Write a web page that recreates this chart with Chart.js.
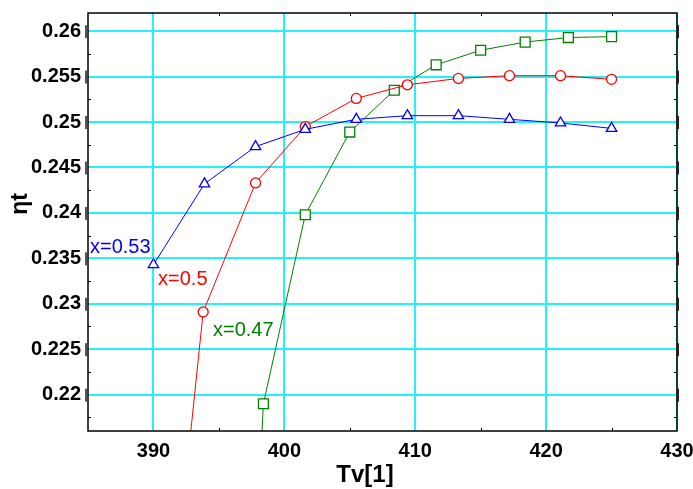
<!DOCTYPE html>
<html>
<head>
<meta charset="utf-8">
<script src="https://cdn.jsdelivr.net/npm/chart.js@4"></script>
<style>
body { margin: 0; background: #fff; }
#wrap { width: 693px; height: 489px; }
</style>
</head>
<body>
<div id="wrap"><canvas id="tvcanvas"></canvas></div>
<script>
// x = 0.53 (triangles)
const tvBlue = [390.0, 393.9, 397.8, 401.6, 405.5, 409.4, 413.3, 417.2, 421.1, 425.0];
const etaBlue = [0.2343, 0.2432, 0.2473, 0.2492, 0.2503, 0.2507, 0.2507, 0.2503, 0.2499, 0.2493];
// x = 0.5 (circles)
const tvRed = [389.9, 393.8, 397.8, 401.6, 405.5, 409.4, 413.3, 417.2, 421.1, 425.0];
const etaRed = [0.175, 0.2291, 0.2433, 0.2495, 0.2526, 0.2541, 0.2548, 0.2551, 0.2551, 0.2547];
// x = 0.47 (squares)
const tvGreen = [395.0, 398.4, 401.6, 405.0, 408.4, 411.6, 415.0, 418.4, 421.7, 425.0];
const etaGreen = [0.12, 0.2190, 0.2398, 0.2489, 0.2535, 0.2563, 0.2579, 0.2588, 0.2593, 0.2594];

const seriesNames = ["x=0.53", "x=0.5", "x=0.47"];
const xTicks = [390, 400, 410, 420, 430];
const xMinor = [395, 405, 415, 425];
const yTicks = [0.22, 0.225, 0.23, 0.235, 0.24, 0.245, 0.25, 0.255, 0.26];
const yTickLabels = ["0.22", "0.225", "0.23", "0.235", "0.24", "0.245", "0.25", "0.255", "0.26"];
const yMinor = [0.2175, 0.2225, 0.2275, 0.2325, 0.2375, 0.2425, 0.2475, 0.2525, 0.2575];

function pts(xs, ys) {
    return xs.map(function (x, i) { return { x: x, y: ys[i] }; });
}

// curve labels, placed in data coords
const curveLabels = [
    { text: seriesNames[0], x: 385.15, y: 0.2362, color: "#0000ff" },
    { text: seriesNames[1], x: 390.35, y: 0.2327, color: "#ff0000" },
    { text: seriesNames[2], x: 394.55, y: 0.2271, color: "#008000" }
];

var extras = {
    id: "extras",
    afterDraw: function (chart) {
        var ctx = chart.ctx;
        var xs = chart.scales.x, ys = chart.scales.y;
        var a = chart.chartArea;
        ctx.save();
        // frame
        ctx.strokeStyle = "#000";
        ctx.lineWidth = 1.5;
        ctx.strokeRect(a.left, a.top, a.right - a.left, a.bottom - a.top);
        // minor ticks
        ctx.lineWidth = 1;
        ctx.beginPath();
        xMinor.forEach(function (v) {
            var px = Math.round(xs.getPixelForValue(v)) + 0.5;
            ctx.moveTo(px, a.bottom); ctx.lineTo(px, a.bottom - 3);
            ctx.moveTo(px, a.top); ctx.lineTo(px, a.top + 3);
        });
        yMinor.forEach(function (v) {
            var py = Math.round(ys.getPixelForValue(v)) + 0.5;
            ctx.moveTo(a.left, py); ctx.lineTo(a.left + 3, py);
            ctx.moveTo(a.right, py); ctx.lineTo(a.right - 3, py);
        });
        ctx.stroke();
        // major bars on the side axes
        yTicks.forEach(function (v) {
            var py = ys.getPixelForValue(v);
            ctx.fillStyle = "#555";
            ctx.fillRect(a.left - 3, py - 6, 2, 13);
            ctx.fillStyle = "#222";
            ctx.fillRect(a.right - 1, py - 6, 3, 13);
        });
        // curve labels
        ctx.font = "20px 'Liberation Sans', Arial, sans-serif";
        ctx.textBaseline = "middle";
        ctx.textAlign = "left";
        curveLabels.forEach(function (l) {
            ctx.fillStyle = l.color;
            ctx.fillText(l.text, xs.getPixelForValue(l.x), ys.getPixelForValue(l.y));
        });
        // axis titles
        ctx.fillStyle = "#000";
        ctx.font = "bold 24px 'Liberation Sans', Arial, sans-serif";
        ctx.textAlign = "center";
        ctx.fillText("Tv[1]", 365, 475);
        ctx.translate(21, 204);
        ctx.rotate(-Math.PI / 2);
        ctx.font = "bold 23px 'Liberation Sans', Arial, sans-serif";
        ctx.fillText("\u03b7t", 0, 0);
        ctx.restore();
    }
};

window.onload = function () {
    var ctx = document.getElementById("tvcanvas").getContext("2d");
    window.tvChart = new Chart(ctx, {
        type: "line",
        data: {
            datasets: [
                {
                    label: seriesNames[0],
                    data: pts(tvBlue, etaBlue),
                    borderColor: "#0000ff",
                    backgroundColor: "#ffffff",
                    borderWidth: 1,
                    pointStyle: "triangle",
                    pointRadius: 6,
                    pointBorderWidth: 1.3,
                    pointBorderColor: "#0000ff"
                },
                {
                    label: seriesNames[1],
                    data: pts(tvRed, etaRed),
                    borderColor: "#ff0000",
                    backgroundColor: "#ffffff",
                    borderWidth: 1,
                    pointStyle: "circle",
                    pointRadius: 5,
                    pointBorderWidth: 1.3,
                    pointBorderColor: "#ff0000"
                },
                {
                    label: seriesNames[2],
                    data: pts(tvGreen, etaGreen),
                    borderColor: "#008000",
                    backgroundColor: "#ffffff",
                    borderWidth: 1,
                    pointStyle: "rect",
                    pointRadius: 7,
                    pointBorderWidth: 1.3,
                    pointBorderColor: "#008000"
                }
            ]
        },
        options: {
            responsive: true,
            maintainAspectRatio: false,
            animation: false,
            layout: { padding: { left: 0, top: 13, right: 16, bottom: 0 } },
            plugins: {
                legend: { display: false },
                tooltip: { enabled: false }
            },
            scales: {
                x: {
                    type: "linear",
                    min: 385,
                    max: 430,
                    afterBuildTicks: function (s) { s.ticks = xTicks.map(function (v) { return { value: v }; }); },
                    afterFit: function (s) { s.height = 58; s.paddingLeft = 0; s.paddingRight = 0; },
                    grid: { color: "#22f4f4", lineWidth: 2, drawTicks: false },
                    border: { display: false },
                    ticks: {
                        padding: 8,
                        color: "#000",
                        font: { family: "'Liberation Sans', Arial, sans-serif", size: 20, weight: "bold" },
                        callback: function (v) { return String(v); }
                    }
                },
                y: {
                    type: "linear",
                    min: 0.216,
                    max: 0.262,
                    afterBuildTicks: function (s) { s.ticks = yTicks.map(function (v) { return { value: v }; }); },
                    afterFit: function (s) { s.width = 88; s.paddingTop = 0; s.paddingBottom = 0; },
                    grid: { color: "#22f4f4", lineWidth: 2, drawTicks: false },
                    border: { display: false },
                    ticks: {
                        padding: 7,
                        color: "#000",
                        font: { family: "'Liberation Sans', Arial, sans-serif", size: 20, weight: "bold" },
                        callback: function (v) {
                            var i = yTicks.findIndex(function (t) { return Math.abs(t - v) < 1e-9; });
                            return i >= 0 ? yTickLabels[i] : "";
                        }
                    }
                }
            }
        },
        plugins: [extras]
    });
};
</script>
</body>
</html>
